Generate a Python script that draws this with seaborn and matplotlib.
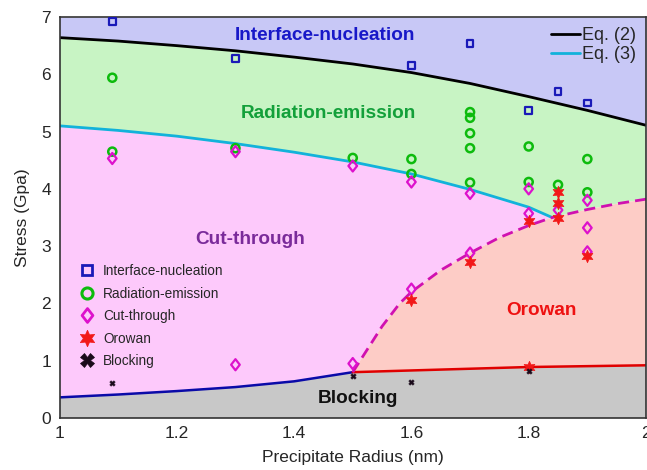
import numpy as np
import pandas as pd
import matplotlib
matplotlib.use("Agg")
import matplotlib.pyplot as plt
from matplotlib.lines import Line2D
from matplotlib.path import Path
import seaborn as sns

# ---- simulation outcomes: precipitate radius (nm) vs. stress (GPa) ----
radius_interface = [1.09, 1.3, 1.6, 1.7, 1.8, 1.85, 1.9]
stress_interface = [6.92, 6.28, 6.16, 6.54, 5.37, 5.70, 5.50]

radius_radiation = [1.09, 1.09, 1.3, 1.5, 1.6, 1.6, 1.7, 1.7, 1.7, 1.7, 1.7, 1.8, 1.8, 1.85, 1.9, 1.9]
stress_radiation = [5.94, 4.65, 4.71, 4.54, 4.52, 4.26, 5.34, 5.24, 4.97, 4.71, 4.11, 4.74, 4.12, 4.07, 4.52, 3.94]

radius_cut = [1.09, 1.3, 1.3, 1.5, 1.5, 1.6, 1.6, 1.7, 1.7, 1.8, 1.8, 1.85, 1.9, 1.9, 1.9]
stress_cut = [4.53, 4.65, 0.93, 4.40, 0.95, 4.12, 2.25, 3.92, 2.88, 4.00, 3.57, 3.63, 3.80, 3.32, 2.90]

radius_orowan = [1.6, 1.7, 1.8, 1.8, 1.85, 1.85, 1.85, 1.9]
stress_orowan = [2.06, 2.73, 3.44, 0.89, 3.94, 3.76, 3.50, 2.82]

radius_block = [1.09, 1.5, 1.6, 1.8]
stress_block = [0.61, 0.74, 0.62, 0.82]

# ---- mechanism boundaries ----
eq2_r = [1.0, 1.1, 1.2, 1.3, 1.4, 1.5, 1.6, 1.7, 1.8, 1.9, 2.0]
eq2_s = [6.64, 6.58, 6.50, 6.41, 6.30, 6.18, 6.03, 5.84, 5.61, 5.37, 5.11]

eq3_r = [1.0, 1.1, 1.2, 1.3, 1.4, 1.5, 1.6, 1.7, 1.8, 1.84]
eq3_s = [5.10, 5.02, 4.92, 4.79, 4.64, 4.47, 4.26, 3.99, 3.68, 3.50]

orowan_r = [1.50, 1.52, 1.55, 1.58, 1.60, 1.65, 1.70, 1.75, 1.80, 1.84, 1.90, 1.95, 2.00]
orowan_s = [0.80, 1.12, 1.60, 2.00, 2.20, 2.58, 2.88, 3.15, 3.36, 3.50, 3.64, 3.74, 3.82]

block_cut_r = [1.0, 1.1, 1.2, 1.3, 1.4, 1.5]
block_cut_s = [0.36, 0.41, 0.47, 0.54, 0.64, 0.80]

block_oro_r = [1.5, 1.8, 2.0]
block_oro_s = [0.80, 0.89, 0.92]

x_ticks = [1, 1.2, 1.4, 1.6, 1.8, 2]
x_tick_labels = ["1", "1.2", "1.4", "1.6", "1.8", "2"]
y_ticks = [0, 1, 2, 3, 4, 5, 6, 7]

sns.set_theme(style="white")
plt.rcParams["font.family"] = ["Liberation Sans", "DejaVu Sans"]
plt.rcParams["xtick.direction"] = "in"
plt.rcParams["ytick.direction"] = "in"

fig = plt.figure(figsize=(6.47, 4.70), dpi=100)
ax = fig.add_axes([59.5 / 647, 52 / 470, 586.5 / 647, 401 / 470])
ax.set_xlim(1, 2)
ax.set_ylim(0, 7)

# ---- shaded mechanism regions ----
C_LAV, C_GRN, C_PNK, C_SAL, C_GRY = "#c8c8f6", "#c8f4c4", "#fdc9fb", "#fdccc6", "#c8c8c8"

eq2_r_a, eq2_s_a = np.array(eq2_r), np.array(eq2_s)
eq3_r_a, eq3_s_a = np.array(eq3_r), np.array(eq3_s)
oro_r_a, oro_s_a = np.array(orowan_r), np.array(orowan_s)
junction = eq3_r_a[-1]
oro_lo = oro_r_a <= junction + 1e-9   # dashed part bounding cut-through
oro_hi = oro_r_a >= junction - 1e-9   # dashed part bounding radiation-emission

ax.fill_between(eq2_r_a, eq2_s_a, 7, color=C_LAV, lw=0)

green_x = np.concatenate([eq2_r_a, oro_r_a[oro_hi][::-1], eq3_r_a[::-1]])
green_y = np.concatenate([eq2_s_a, oro_s_a[oro_hi][::-1], eq3_s_a[::-1]])
ax.fill(green_x, green_y, color=C_GRN, lw=0)

pink_x = np.concatenate([eq3_r_a, oro_r_a[oro_lo][::-1], np.array(block_cut_r)[::-1]])
pink_y = np.concatenate([eq3_s_a, oro_s_a[oro_lo][::-1], np.array(block_cut_s)[::-1]])
ax.fill(pink_x, pink_y, color=C_PNK, lw=0)

sal_x = np.concatenate([oro_r_a, np.array(block_oro_r)[::-1]])
sal_y = np.concatenate([oro_s_a, np.array(block_oro_s)[::-1]])
ax.fill(sal_x, sal_y, color=C_SAL, lw=0)

gray_x = np.concatenate([block_cut_r, block_oro_r[1:], [2.0, 1.0]])
gray_y = np.concatenate([block_cut_s, block_oro_s[1:], [0.0, 0.0]])
ax.fill(gray_x, gray_y, color=C_GRY, lw=0)

# ---- boundary lines ----
def boundary(r, s, **kw):
    df = pd.DataFrame({"r": r, "s": s})
    sns.lineplot(data=df, x="r", y="s", sort=False, estimator=None, ax=ax, **kw)

boundary(eq2_r, eq2_s, color="black", lw=2.0, label="Eq. (2)")
boundary(eq3_r, eq3_s, color="#12b2da", lw=2.0, label="Eq. (3)")
boundary(block_cut_r, block_cut_s, color="#0a0aa8", lw=1.8)
boundary(block_oro_r, block_oro_s, color="#e00000", lw=1.8)
boundary(orowan_r, orowan_s, color="#d010b0", lw=2.0, dashes=(4, 2.2))

# ---- simulation points ----
C_SQ, C_CI, C_DI, C_ST, C_BL = "#1a1ab8", "#0dbb0d", "#dd11cc", "#f21818", "#1a0a1a"
DIAMOND = Path([(0, 1), (0.78, 0), (0, -1), (-0.78, 0), (0, 1)],
               [Path.MOVETO, Path.LINETO, Path.LINETO, Path.LINETO, Path.CLOSEPOLY])

def points(r, s, marker, color, size, lw, filled=False):
    df = pd.DataFrame({"r": r, "s": s})
    if filled:
        sns.scatterplot(data=df, x="r", y="s", marker=marker, s=size, color=color,
                        edgecolor=color, linewidth=lw, ax=ax, zorder=5, legend=False)
    else:
        sns.scatterplot(data=df, x="r", y="s", marker=marker, s=size, facecolors="none",
                        edgecolor=color, linewidth=lw, ax=ax, zorder=5, legend=False)

points(radius_interface, stress_interface, "s", C_SQ, 24, 1.6)
points(radius_radiation, stress_radiation, "o", C_CI, 34, 1.8)
points(radius_cut, stress_cut, DIAMOND, C_DI, 64, 1.6)
points(radius_orowan, stress_orowan, (6, 1, 0), C_ST, 80, 0.5, filled=True)
points(radius_block, stress_block, "X", C_BL, 16, 0.3, filled=True)

# ---- region names ----
label_kw = dict(fontsize=13.7, fontweight="bold", ha="center", va="center")
ax.text(1.453, 6.67, "Interface-nucleation", color="#1818c8", **label_kw)
ax.text(1.458, 5.32, "Radiation-emission", color="#13a03a", **label_kw)
ax.text(1.325, 3.12, "Cut-through", color="#7a2a9a", **label_kw)
ax.text(1.822, 1.885, "Orowan", color="#ee1111", **label_kw)
ax.text(1.508, 0.344, "Blocking", color="#111111", **label_kw)

# ---- legends ----
leg_eq = ax.legend(loc="upper right", bbox_to_anchor=(1.0, 1.0), frameon=False,
                   fontsize=13, handlelength=1.6, handletextpad=0.1,
                   labelspacing=0.12, borderaxespad=0.15)
ax.add_artist(leg_eq)

mk_handles = [
    Line2D([], [], ls="none", marker="s", ms=6.5, mfc="none", mec=C_SQ, mew=2.0),
    Line2D([], [], ls="none", marker="o", ms=8, mfc="none", mec=C_CI, mew=2.2),
    Line2D([], [], ls="none", marker=DIAMOND, ms=10, mfc="none", mec=C_DI, mew=2.0),
    Line2D([], [], ls="none", marker=(6, 1, 0), ms=12, mfc=C_ST, mec=C_ST, mew=0.5),
    Line2D([], [], ls="none", marker="X", ms=10, mfc=C_BL, mec=C_BL, mew=0.5),
]
mk_labels = ["Interface-nucleation", "Radiation-emission", "Cut-through", "Orowan", "Blocking"]
ax.legend(mk_handles, mk_labels, loc="upper left", bbox_to_anchor=(0.023, 0.397),
          frameon=False, fontsize=9.8, handlelength=1.2, handletextpad=0.6,
          labelspacing=0.62, borderaxespad=0)

# ---- axes cosmetics ----
ax.set_xticks(x_ticks)
ax.set_xticklabels(x_tick_labels)
ax.set_yticks(y_ticks)
ax.tick_params(axis="both", labelsize=12.5, length=4, width=0.8, color="#555555",
               pad=6, top=False, right=False)
ax.set_xlabel("Precipitate Radius (nm)", fontsize=12.5, labelpad=6)
ax.set_ylabel("Stress (Gpa)", fontsize=12.5, labelpad=8)
for sp in ax.spines.values():
    sp.set_color("#333333")
    sp.set_linewidth(1.2)

fig.savefig("out.png", dpi=100)
